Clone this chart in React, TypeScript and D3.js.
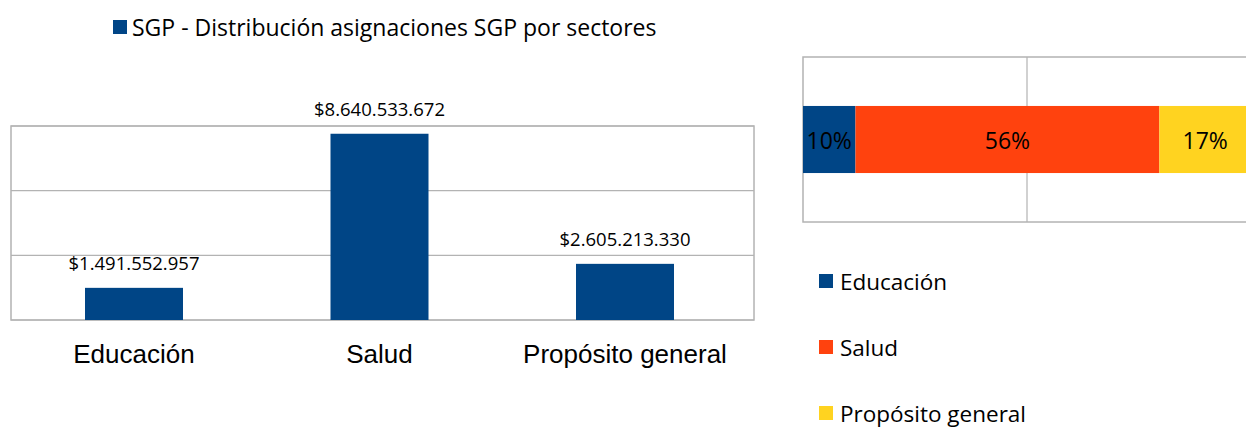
import React from "react";
import * as d3 from "d3";

const categories = ["Educación", "Salud", "Propósito general"];
const values = [1491552957, 8640533672, 2605213330];
const valueLabels = ["$1.491.552.957", "$8.640.533.672", "$2.605.213.330"];
const pctLabels = ["10%", "56%", "17%"];
const yTicks = [0, 3e9, 6e9, 9e9];
const legendTitle = "SGP - Distribución asignaciones SGP por sectores";
const colors = ["#004586", "#ff420e", "#ffd320"];

const W = 1246;
const H = 428;
const sans = "'Open Sans', 'Noto Sans', sans-serif";
const arial = "'Liberation Sans', Arial, sans-serif";

export default function App() {
  // Left bar chart
  const L = { x0: 11, x1: 754, y0: 126, y1: 320 };
  const x = d3.scaleBand<string>().domain(categories).range([11.25, 747.75]).padding(0);
  const y = d3.scaleLinear().domain([0, 9e9]).range([L.y1, L.y0]);
  const barW = 98;

  // Right stacked bar
  const R = { x0: 803, x1: 1251, y0: 57, y1: 222 };
  const total = d3.sum(values);
  const xs = d3.scaleLinear().domain([0, total]).range([R.x0, R.x1]);
  const yb = d3.scaleBand<string>().domain(["SGP"]).range([R.y0, R.y1]).paddingInner(0).paddingOuter(0.73);
  const stack = d3.cumsum(values);
  const starts = values.map((v, i) => stack[i] - v);
  const mid = [total / 2];

  return (
    <svg width={W} height={H} style={{ position: "absolute", left: 0, top: 0, background: "#fff" }}>
      {/* legend title */}
      <rect x={113} y={20} width={14} height={14} fill={colors[0]} />
      <text x={132} y={27} dominantBaseline="central" fontFamily={sans} fontSize={23} fill="#000">
        {legendTitle}
      </text>

      {/* left chart frame & grid */}
      {yTicks.map((t) => (
        <line key={t} x1={L.x0} x2={L.x1} y1={y(t)} y2={y(t)} stroke="#b3b3b3" strokeWidth={1.2} />
      ))}
      <rect x={L.x0} y={L.y0} width={L.x1 - L.x0} height={L.y1 - L.y0} fill="none" stroke="#b3b3b3" strokeWidth={1.5} />
      {categories.map((c, i) => {
        const cx = (x(c) as number) + x.bandwidth() / 2;
        return (
          <g key={c}>
            <rect x={cx - barW / 2} y={y(values[i])} width={barW} height={L.y1 - y(values[i])} fill={colors[0]} />
            <text x={cx} y={y(values[i]) - 18} textAnchor="middle" fontFamily={sans} fontSize={18.5} fill="#000">
              {valueLabels[i]}
            </text>
            <text x={cx} y={363} textAnchor="middle" fontFamily={arial} fontSize={26} fill="#000">
              {c}
            </text>
          </g>
        );
      })}

      {/* right chart */}
      <rect x={R.x0} y={R.y0} width={R.x1 - R.x0} height={R.y1 - R.y0} fill="none" stroke="#b3b3b3" strokeWidth={1.5} />
      {mid.map((t) => (
        <line key={t} x1={xs(t)} x2={xs(t)} y1={R.y0} y2={R.y1} stroke="#b3b3b3" strokeWidth={1.2} />
      ))}
      {values.map((v, i) => {
        const x0 = xs(starts[i]);
        const x1 = xs(stack[i]);
        const yy = yb("SGP") as number;
        return (
          <g key={i}>
            <rect x={x0} y={yy} width={x1 - x0} height={yb.bandwidth()} fill={colors[i]} />
            <text x={(x0 + x1) / 2} y={yy + yb.bandwidth() / 2} dominantBaseline="central" textAnchor="middle" fontFamily={sans} fontSize={23} fill="#000">
              {pctLabels[i]}
            </text>
          </g>
        );
      })}

      {/* right legend */}
      {categories.map((c, i) => {
        const cy = 281 + i * 66;
        return (
          <g key={c}>
            <rect x={819} y={cy - 7} width={14} height={14} fill={colors[i]} />
            <text x={840} y={cy} dominantBaseline="central" fontFamily={sans} fontSize={22.5} fill="#000">
              {c}
            </text>
          </g>
        );
      })}
    </svg>
  );
}
